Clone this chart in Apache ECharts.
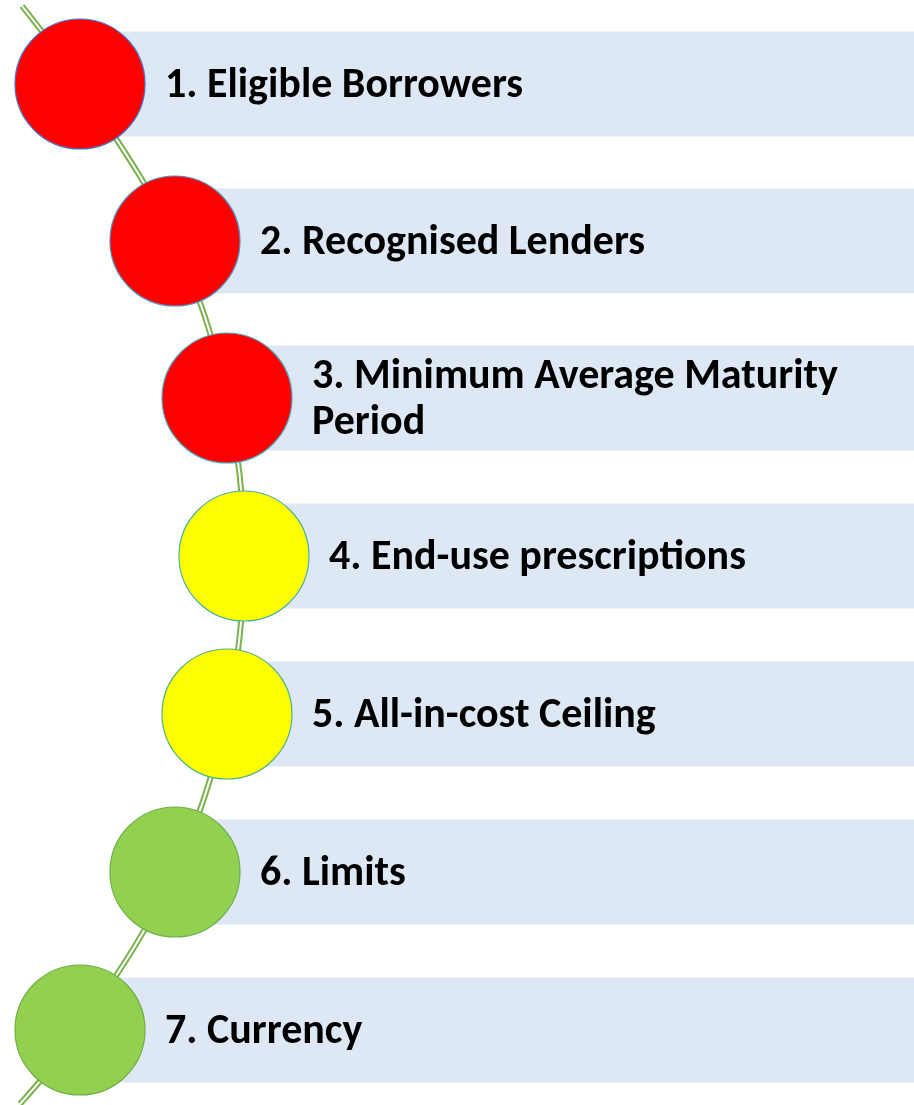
<!DOCTYPE html>
<html>
<head>
<meta charset="utf-8">
<script src="https://cdn.jsdelivr.net/npm/echarts@6/dist/echarts.min.js"></script>
<style>
  html, body { margin: 0; padding: 0; background: #fff; }
  #chart { width: 914px; height: 1105px; }
</style>
</head>
<body>
<div id="chart"></div>
<script>
const labels = [
  '1. Eligible Borrowers',
  '2. Recognised Lenders',
  '3. Minimum Average Maturity\nPeriod',
  '4. End-use prescriptions',
  '5. All-in-cost Ceiling',
  '6. Limits',
  '7. Currency'
]
// circle centres (pixels)
const dotX = [80, 175, 227, 244, 227, 175, 80]
const dotY = [84, 241, 398, 556, 714, 872, 1030]
const dotFill = ['#FF0000', '#FF0000', '#FF0000', '#FFFF00', '#FFFF00', '#92D050', '#92D050']
const dotBorder = ['#4472C4', '#4A93C4', '#49A8BE', '#4BB0A4', '#52B384', '#6DB04C', '#70AD47']
// ends of the connecting curve
const curveStart = [22, 6]
const curveEnd = [20, 1104]

const W = 914
const H = 1105
const BAR_HALF = 52.5
const R = 65
const FONT = 'Carlito, Lato, "Open Sans", sans-serif'

const chart = echarts.init(document.getElementById('chart'))

const curveData = [curveStart]
  .concat(dotX.map((x, i) => [x, dotY[i]]))
  .concat([curveEnd])

chart.setOption({
  animation: false,
  grid: { left: 0, right: 0, top: 0, bottom: 0 },
  xAxis: { type: 'value', min: 0, max: W, show: false },
  yAxis: { type: 'value', min: 0, max: H, inverse: true, show: false },
  series: [
    {
      type: 'custom',
      z: 1,
      data: labels.map((t, i) => [dotX[i], dotY[i], t]),
      renderItem(params, api) {
        const x = api.value(0)
        const y = api.value(1)
        const tl = api.coord([x, y - BAR_HALF])
        const br = api.coord([W, y + BAR_HALF])
        const tp = api.coord([x + R + 20, y + 2])
        return {
          type: 'group',
          children: [
            {
              type: 'rect',
              shape: { x: tl[0], y: tl[1], width: br[0] - tl[0], height: br[1] - tl[1] },
              style: { fill: '#DEE8F5' }
            },
            {
              type: 'text',
              z2: 10,
              x: tp[0],
              y: tp[1],
              style: {
                text: labels[params.dataIndex],
                fill: '#000',
                font: 'bold 42px ' + FONT,
                lineHeight: 46,
                align: 'left',
                verticalAlign: 'middle'
              }
            }
          ]
        }
      }
    },
    {
      type: 'line',
      z: 2,
      data: curveData,
      smooth: 0.35,
      symbol: 'none',
      lineStyle: { color: '#7AB24F', width: 6, cap: 'butt' }
    },
    {
      type: 'line',
      z: 3,
      data: curveData,
      smooth: 0.35,
      symbol: 'none',
      lineStyle: { color: '#FFFFFF', width: 2, cap: 'butt' }
    },
    {
      type: 'scatter',
      z: 4,
      symbol: 'circle',
      symbolSize: 2 * R,
      data: dotX.map((x, i) => ({
        value: [x, dotY[i]],
        itemStyle: { color: dotFill[i], borderColor: dotBorder[i], borderWidth: 1.2, opacity: 1 }
      }))
    }
  ]
})
</script>
</body>
</html>
